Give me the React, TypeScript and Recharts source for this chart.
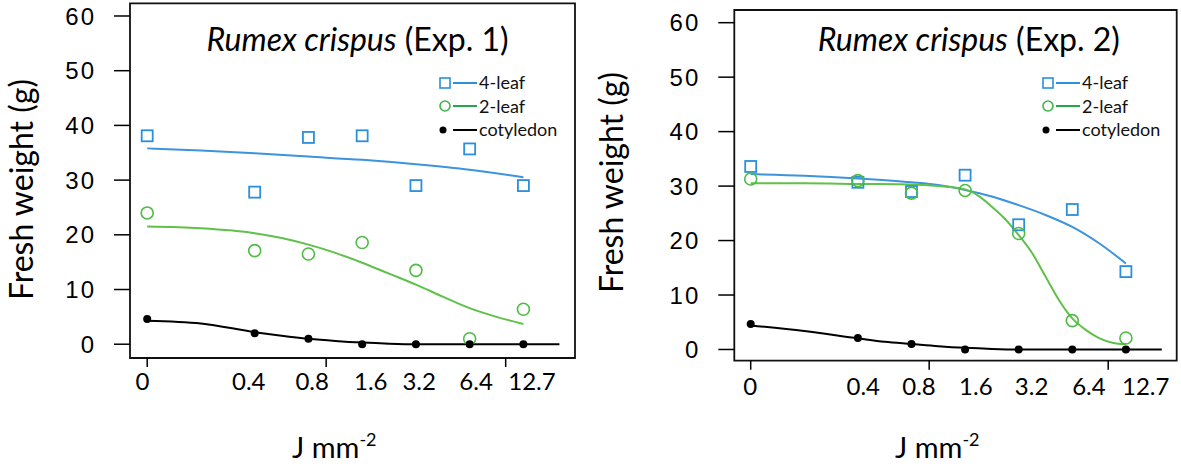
import React from "react";
import { ComposedChart, Scatter, Line, XAxis, YAxis, ReferenceArea, Legend } from "recharts";

// dose categories (J mm-2), placed on a log-like axis position
const doseLabels = ["0", "0.4", "0.8", "1.6", "3.2", "6.4", "12.7"];
const dosePos = [0, 2, 3, 4, 5, 6, 7];
const yTicks = [0, 10, 20, 30, 40, 50, 60];
const tickMarks = [0, 3.33, 6.67];

// Exp. 1 observed
const exp1Leaf4 = [38.1, 27.8, 37.8, 38.1, 29.0, 35.7, 29.0];
const exp1Leaf2 = [24.0, 17.1, 16.5, 18.6, 13.5, 1.0, 6.4];
const exp1Coty = [4.6, 2.0, 1.0, 0, 0, 0, 0];
// Exp. 1 fitted curves
const exp1Leaf4FitX = [0, 1, 2, 3, 4, 5, 6, 7];
const exp1Leaf4FitY = [35.8, 35.4, 34.9, 34.3, 33.7, 32.9, 31.9, 30.5];
const exp1Leaf2FitX = [0, 1, 2, 2.5, 3, 3.5, 4, 4.5, 5, 5.5, 6, 6.5, 7];
const exp1Leaf2FitY = [21.5, 21.2, 20.3, 19.4, 18.2, 16.7, 14.9, 12.9, 10.9, 8.7, 6.6, 5.0, 3.7];
const exp1CotyFitX = [0, 1, 2, 2.5, 3, 3.5, 4, 4.5, 5, 6, 7, 7.67];
const exp1CotyFitY = [4.3, 3.8, 2.2, 1.55, 1.0, 0.6, 0.3, 0.1, 0, 0, 0, 0];
const exp1LabelAt = [-0.09, 1.89, 3.07, 4.16, 5.06, 6.12, 7.16];

// Exp. 2 observed
const exp2Leaf4 = [33.6, 30.7, 29.0, 32.0, 22.9, 25.7, 14.3];
const exp2Leaf2 = [31.3, 31.0, 28.7, 29.2, 21.3, 5.3, 2.1];
const exp2Coty = [4.7, 2.1, 1.0, 0, 0, 0, 0];
// Exp. 2 fitted curves
const exp2Leaf4FitX = [0, 1, 2, 3, 3.5, 4, 4.5, 5, 5.5, 6, 6.5, 7];
const exp2Leaf4FitY = [32.2, 31.9, 31.4, 30.7, 30.2, 29.3, 28.1, 26.5, 24.7, 22.5, 19.5, 15.8];
const exp2Leaf2FitX = [0, 1, 2, 3, 3.5, 4, 4.25, 4.5, 4.75, 5, 5.25, 5.5, 5.75, 6, 6.25, 6.5, 6.75, 7];
const exp2Leaf2FitY = [30.5, 30.5, 30.4, 30.3, 30.0, 29.4, 28.2, 26.2, 23.9, 21.0, 17.7, 13.4, 9.1, 5.7, 3.6, 2.1, 1.25, 0.95];
const exp2CotyFitX = [0, 1, 2, 2.5, 3, 3.5, 4, 4.5, 5, 6, 7, 7.67];
const exp2CotyFitY = [4.4, 3.4, 2.05, 1.4, 1.0, 0.6, 0.3, 0.1, 0, 0, 0, 0];
const exp2LabelAt = [-0.01, 2.1, 3.14, 4.2, 5.24, 6.31, 7.37];

const legendItems = [
  { name: "4-leaf", marker: "square", color: "#2b8fdc", line: "#2b8fdc" },
  { name: "2-leaf", marker: "circle", color: "#3db54a", line: "#22a84a" },
  { name: "cotyledon", marker: "dot", color: "#000", line: "#000" },
];

const BLUE = "#2b8fdc";
const BLUE_LINE = "#3d93dc";
const GREEN = "#4dbb45";
const GREEN_LINE = "#5fc04a";
const SEGOE = "Lato, 'Open Sans', sans-serif";
const INK = "#000";

const toPoints = (xs: number[], ys: number[]) => xs.map((x, i) => ({ x, y: ys[i] }));

const SquareShape = (p: any) => (
  <rect x={p.cx - 5.5} y={p.cy - 5.5} width={11} height={11} fill="none" stroke={BLUE} strokeWidth={1.8} />
);
const CircleShape = (p: any) => <circle cx={p.cx} cy={p.cy} r={6} fill="none" stroke={GREEN} strokeWidth={1.6} />;
const DotShape = (p: any) => <circle cx={p.cx} cy={p.cy} r={4} fill="#000" />;

function LegendBox({ left }: { left: number }) {
  return (
    <div style={{ position: "absolute", left, top: 71, fontFamily: SEGOE, fontSize: 18, lineHeight: "23.5px" }}>
      {legendItems.map((d) => (
        <div key={d.name} style={{ display: "flex", alignItems: "center", height: 23.5 }}>
          <svg width={38} height={14} style={{ overflow: "visible" }}>
            {d.marker === "square" && <rect x={0} y={2} width={10} height={10} fill="none" stroke={d.color} strokeWidth={1.6} />}
            {d.marker === "circle" && <circle cx={5} cy={7} r={5} fill="none" stroke={d.color} strokeWidth={1.6} />}
            {d.marker === "dot" && <circle cx={3} cy={7} r={3.5} fill={d.color} />}
            <line x1={13} x2={37} y1={7} y2={7} stroke={d.line} strokeWidth={2} />
          </svg>
          <span style={{ marginLeft: 1, color: "#111" }}>{d.name}</span>
        </div>
      ))}
    </div>
  );
}

type PanelProps = {
  width: number;
  margin: { top: number; right: number };
  yAxisWidth: number;
  xAxisHeight: number;
  xDomain: [number, number];
  yDomain: [number, number];
  labelAt: number[];
  labelBaseline: number;
  leaf4: number[];
  leaf2: number[];
  coty: number[];
  leaf4Fit: [number[], number[]];
  leaf2Fit: [number[], number[]];
  cotyFit: [number[], number[]];
  title: string;
  titleX: number;
  titleY: number;
  yLabelX: number;
  yLabelY: number;
  xLabelX: number;
  legendLeft: number;
};

function Panel(p: PanelProps) {
  const doseTick = (props: any) => {
    const v = props.payload.value;
    if (tickMarks.includes(v)) {
      return <line x1={props.x} x2={props.x} y1={props.y} y2={props.y + 9} stroke="#000" strokeWidth={1.5} />;
    }
    const i = p.labelAt.indexOf(v);
    return (
      <text x={props.x} y={props.y + p.labelBaseline} textAnchor="middle" fontFamily={SEGOE} fontSize={24} fill={INK}>
        {doseLabels[i]}
      </text>
    );
  };

  return (
    <div style={{ position: "relative", width: p.width, height: 466 }}>
      <ComposedChart width={p.width} height={466} margin={{ top: p.margin.top, right: p.margin.right, left: 0, bottom: 0 }}>
        <XAxis
          type="number"
          dataKey="x"
          domain={p.xDomain}
          allowDataOverflow
          ticks={[...tickMarks, ...p.labelAt]}
          interval={0}
          tick={doseTick}
          tickLine={false}
          tickSize={0}
          tickMargin={0}
          axisLine={false}
          height={p.xAxisHeight}
          label={{
            content: () => (
              <text x={p.xLabelX} y={458} fontFamily={SEGOE} fontSize={29} fill={INK}>
                J mm
                <tspan fontSize={18} dy={-12}>-2</tspan>
              </text>
            ),
          }}
        />
        <YAxis
          type="number"
          dataKey="y"
          domain={p.yDomain}
          allowDataOverflow
          ticks={yTicks}
          interval={0}
          width={p.yAxisWidth}
          tickSize={16}
          tickMargin={18}
          axisLine={false}
          tickLine={{ stroke: "#000", strokeWidth: 1.5 }}
          tick={{ fontFamily: "'Liberation Sans', Arial, sans-serif", fontSize: 24, fill: INK, letterSpacing: 2 }}
          label={{
            content: () => (
              <text
                x={p.yLabelX}
                y={p.yLabelY}
                transform={`rotate(-90 ${p.yLabelX} ${p.yLabelY})`}
                textAnchor="middle"
                fontFamily={SEGOE}
                fontSize={32}
                fill={INK}
              >
                Fresh weight (g)
              </text>
            ),
          }}
        />
        <ReferenceArea
          x1={p.xDomain[0]}
          x2={p.xDomain[1]}
          y1={p.yDomain[0]}
          y2={p.yDomain[1]}
          fill="none"
          fillOpacity={0}
          stroke="#111"
          strokeWidth={1.8}
          strokeOpacity={1}
          label={{
            content: () => (
              <text x={p.titleX} y={p.titleY} textAnchor="middle" fontFamily={SEGOE} fontSize={32} fill={INK}>
                <tspan fontStyle="italic">Rumex crispus</tspan>
                <tspan> {p.title}</tspan>
              </text>
            ),
          }}
        />
        <Line data={toPoints(...p.leaf4Fit)} dataKey="y" type="monotone" stroke={BLUE_LINE} strokeWidth={2} dot={false} isAnimationActive={false} legendType="none" />
        <Line data={toPoints(...p.leaf2Fit)} dataKey="y" type="monotone" stroke={GREEN_LINE} strokeWidth={2} dot={false} isAnimationActive={false} legendType="none" />
        <Line data={toPoints(...p.cotyFit)} dataKey="y" type="monotone" stroke="#000" strokeWidth={2} dot={false} isAnimationActive={false} legendType="none" />
        <Scatter data={toPoints(dosePos, p.leaf4)} dataKey="y" shape={SquareShape} isAnimationActive={false} legendType="none" />
        <Scatter data={toPoints(dosePos, p.leaf2)} dataKey="y" shape={CircleShape} isAnimationActive={false} legendType="none" />
        <Scatter data={toPoints(dosePos, p.coty)} dataKey="y" shape={DotShape} isAnimationActive={false} legendType="none" />
        <Legend layout="vertical" align="center" verticalAlign="middle" content={() => null} />
      </ComposedChart>
      <LegendBox left={p.legendLeft} />
    </div>
  );
}

export default function App() {
  return (
    <div style={{ position: "relative", width: 1181, height: 466, background: "#fff", display: "flex" }}>
      <style>{"body{margin:0}"}</style>
      <Panel
        width={590}
        margin={{ top: 3.3, right: 15 }}
        yAxisWidth={130}
        xAxisHeight={108}
        xDomain={[-0.32, 7.96]}
        yDomain={[-2.52, 62.32]}
        labelAt={exp1LabelAt}
        labelBaseline={32}
        leaf4={exp1Leaf4}
        leaf2={exp1Leaf2}
        coty={exp1Coty}
        leaf4Fit={[exp1Leaf4FitX, exp1Leaf4FitY]}
        leaf2Fit={[exp1Leaf2FitX, exp1Leaf2FitY]}
        cotyFit={[exp1CotyFitX, exp1CotyFitY]}
        title="(Exp. 1)"
        titleX={357.5}
        titleY={51}
        yLabelX={33}
        yLabelY={189.5}
        xLabelX={292}
        legendLeft={440}
      />
      <Panel
        width={591}
        margin={{ top: 10, right: 4.3 }}
        yAxisWidth={144.3}
        xAxisHeight={105.3}
        xDomain={[-0.306, 7.948]}
        yDomain={[-2.06, 62.33]}
        labelAt={exp2LabelAt}
        labelBaseline={34}
        leaf4={exp2Leaf4}
        leaf2={exp2Leaf2}
        coty={exp2Coty}
        leaf4Fit={[exp2Leaf4FitX, exp2Leaf4FitY]}
        leaf2Fit={[exp2Leaf2FitX, exp2Leaf2FitY]}
        cotyFit={[exp2CotyFitX, exp2CotyFitY]}
        title="(Exp. 2)"
        titleX={378.8}
        titleY={50.5}
        yLabelX={33}
        yLabelY={182.5}
        xLabelX={305}
        legendLeft={453}
      />
    </div>
  );
}
